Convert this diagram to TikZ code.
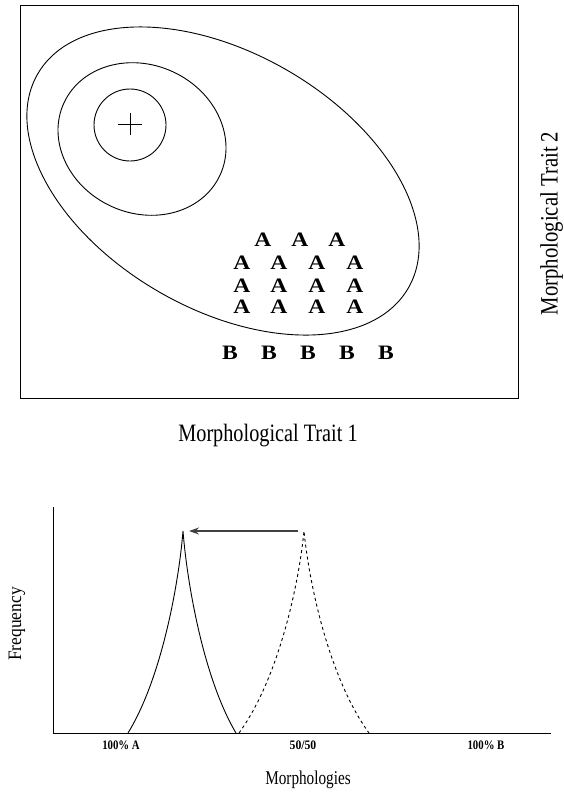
\documentclass[tikz,border=0pt]{standalone}
\usepackage{fontspec}
\usepackage{graphicx}
\setmainfont{Liberation Serif}
\usetikzlibrary{arrows.meta}
\tikzset{
  thin line/.style={line width=0.9pt, black},
  letterA/.style={inner sep=0pt, font=\bfseries\fontsize{20.5}{22}\selectfont},
  letterB/.style={inner sep=0pt, font=\bfseries\fontsize{20.5}{22}\selectfont},
  biglabel/.style={inner sep=0pt, font=\fontsize{25}{30}\selectfont},
  ticklabel/.style={inner sep=0pt, anchor=base, font=\bfseries\fontsize{13}{14}\selectfont},
  dashcurve/.style={line width=0.9pt, dash pattern=on 3pt off 3pt},
  shiftarrow/.style={-{Stealth[length=10pt,width=7pt]}, line width=1.4pt, black!75}
}
\begin{document}
\begin{tikzpicture}[x=1pt,y=1pt]
\useasboundingbox (0,0) rectangle (564,-796);
% ---------- upper panel ----------
\draw[thin line] (20,-5) rectangle (518,-398);
\draw[thin line, rotate around={-30:(223,-181)}] (223,-181) ellipse [x radius=214, y radius=128];
\draw[thin line, rotate around={-25:(142,-139)}] (142,-139) ellipse [x radius=86, y radius=74];
\draw[thin line] (130,-125) circle [radius=36];
\coordinate (pl) at (118,-124);
\coordinate (pr) at (142,-124);
\coordinate (pt) at (130,-113);
\coordinate (pb) at (130,-135);
\draw[thin line] (pl) -- (pr);
\draw[thin line] (pt) -- (pb);
% A letters
\foreach \x [count=\i] in {263,300,337} {
  \node[letterA] (a1\i) at (\x,-240) {\scalebox{1.15}[1]{A}};
}
\foreach \y [count=\j] in {263,286,307} {
  \foreach \x [count=\i] in {242,279,317,355} {
    \node[letterA] (a\j\i x) at (\x,-\y) {\scalebox{1.15}[1]{A}};
  }
}
% B letters
\foreach \x [count=\i] in {230,269,308,347,386} {
  \node[letterB] (b\i) at (\x,-353) {\scalebox{1.15}[1]{B}};
}
\node[biglabel, anchor=base] (t1) at (268,-441.7) {\scalebox{0.81}[1]{Morphological Trait 1}};
\node[biglabel, anchor=base, rotate=90] (t2) at (557.5,-223.5) {\scalebox{0.83}[1]{Morphological Trait 2}};
% ---------- lower panel ----------
\coordinate (ytop) at (53,-507);
\coordinate (orig) at (53,-733);
\coordinate (xend) at (551,-733);
\draw[thin line] (ytop) -- (orig) -- (xend);
\coordinate (sL) at (128,-733);
\coordinate (sP) at (183,-531);
\coordinate (sR) at (236,-733);
\draw[thin line] (sL) .. controls (161.8,-678) and (178.8,-583) .. (sP)
  .. controls (187.1,-583) and (203.4,-678) .. (sR);
\coordinate (dL) at (239,-733);
\coordinate (dP) at (304,-531);
\coordinate (dR) at (369,-733);
\draw[dashcurve] (dL) .. controls (279,-678) and (299,-583) .. (dP)
  .. controls (309,-583) and (329,-678) .. (dR);
\coordinate (arrS) at (298,-531);
\coordinate (arrE) at (189,-531);
\draw[shiftarrow] (arrS) -- (arrE);
\node[ticklabel] (l1) at (121,-749) {\scalebox{0.83}[1]{100\% A}};
\node[ticklabel] (l2) at (303,-749) {\scalebox{0.9}[1]{50/50}};
\node[ticklabel] (l3) at (486,-749) {\scalebox{0.83}[1]{100\% B}};
\node[inner sep=0pt, anchor=base, font=\fontsize{19.5}{22}\selectfont] (xl) at (308,-784) {\scalebox{0.78}[1]{Morphologies}};
\node[inner sep=0pt, anchor=base, rotate=90, font=\fontsize{19}{22}\selectfont] (yl) at (21,-624) {\scalebox{0.92}[1]{Frequency}};
\end{tikzpicture}
\end{document}
